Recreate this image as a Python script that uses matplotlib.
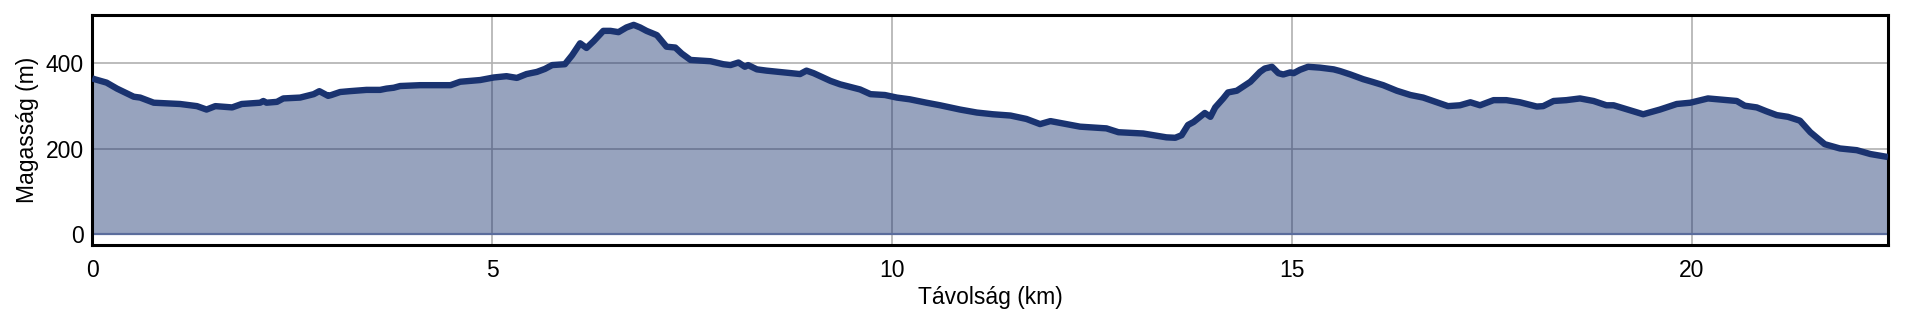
import numpy as np
import matplotlib
matplotlib.use("Agg")
import matplotlib.pyplot as plt

# távolság (km) és magasság (m)
tavolsag = [0.0, 0.03, 0.18, 0.31, 0.52, 0.6, 0.77, 1.1, 1.31, 1.43, 1.54, 1.75, 1.87,
            2.1, 2.14, 2.18, 2.31, 2.39, 2.6, 2.77, 2.84, 2.95, 2.99, 3.1, 3.22, 3.43,
            3.6, 3.68, 3.77, 3.85, 4.1, 4.48, 4.6, 4.85, 5.02, 5.18, 5.31, 5.43, 5.56,
            5.66, 5.75, 5.91, 6.0, 6.1, 6.18, 6.27, 6.39, 6.48, 6.58, 6.68, 6.77, 6.85,
            6.93, 7.06, 7.18, 7.29, 7.37, 7.48, 7.73, 7.89, 7.98, 8.08, 8.16, 8.2, 8.31,
            8.43, 8.64, 8.85, 8.93, 9.02, 9.23, 9.35, 9.6, 9.73, 9.91, 10.06, 10.22,
            10.43, 10.6, 10.85, 11.06, 11.26, 11.48, 11.68, 11.85, 11.98, 12.18, 12.35,
            12.68, 12.83, 13.14, 13.27, 13.43, 13.54, 13.62, 13.7, 13.77, 13.85, 13.91,
            13.98, 14.04, 14.14, 14.2, 14.31, 14.48, 14.6, 14.66, 14.75, 14.83, 14.89,
            14.98, 15.02, 15.1, 15.2, 15.35, 15.52, 15.6, 15.73, 15.89, 16.0, 16.14,
            16.31, 16.48, 16.64, 16.81, 16.95, 17.1, 17.23, 17.35, 17.52, 17.68, 17.85,
            18.06, 18.14, 18.27, 18.43, 18.6, 18.77, 18.93, 19.02, 19.18, 19.39, 19.6,
            19.81, 19.98, 20.2, 20.43, 20.56, 20.66, 20.81, 20.93, 21.06, 21.2, 21.35,
            21.48, 21.66, 21.85, 22.06, 22.23, 22.45]
magassag = [365, 363, 355, 341, 322, 320, 308, 305, 300, 292, 300, 297, 305,
            308, 312, 308, 310, 318, 320, 328, 335, 324, 326, 333, 335, 338,
            338, 341, 343, 347, 349, 349, 357, 361, 367, 370, 366, 375, 380,
            387, 396, 398, 419, 447, 436, 452, 476, 476, 473, 484, 490, 484,
            476, 466, 439, 437, 423, 408, 405, 398, 396, 402, 392, 396, 386,
            383, 379, 375, 383, 377, 359, 351, 339, 328, 326, 320, 316,
            308, 302, 292, 285, 281, 278, 270, 258, 265, 258, 252,
            248, 239, 236, 232, 227, 226, 232, 256, 263, 275, 284,
            275, 297, 318, 332, 336, 357, 380, 388, 392, 377, 374,
            379, 377, 385, 392, 390, 386, 382, 374, 363, 357, 349,
            336, 326, 320, 309, 300, 302, 309, 302, 314, 314, 309,
            299, 300, 312, 314, 318, 312, 302, 302, 293, 281, 292,
            305, 308, 318, 314, 312, 301, 297, 288, 279, 275, 266,
            239, 211, 201, 197, 188, 181]

x_ticks = [0, 5, 10, 15, 20]
y_ticks = [0, 200, 400]

szin = "#1a3370"

plt.rcParams['font.family'] = ['Liberation Sans', 'DejaVu Sans']

fig = plt.figure(figsize=(19.2, 3.2), dpi=100)
ax = fig.add_axes([0.048, 0.234, 0.9353, 0.719])

x = np.array(tavolsag)
y = np.array(magassag)

# rács a kitöltés alatt
ax.set_axisbelow(True)
ax.grid(True, color="#b0b0b0", linewidth=1.2)
ax.fill_between(x, 0, y, color=szin, alpha=0.45, linewidth=0, zorder=2)
ax.axhline(0, color="#5b6d9c", linewidth=1.6, zorder=2.5)
ax.plot(x, y, color=szin, linewidth=4.6, solid_joinstyle="round",
        solid_capstyle="butt", zorder=3)

ax.set_xlim(0, 22.45)
ax.set_ylim(-25, 513)
ax.set_xticks(x_ticks)
ax.set_yticks(y_ticks)
ax.tick_params(length=0, labelsize=16.5)
ax.tick_params(axis="x", pad=10)
ax.tick_params(axis="y", pad=6)
for s in ax.spines.values():
    s.set_linewidth(2.2)
    s.set_color("black")

ax.set_xlabel("Távolság (km)", fontsize=16.5, labelpad=3)
ax.set_ylabel("Magasság (m)", fontsize=16.5, labelpad=5)

fig.savefig("out.png", dpi=100)
